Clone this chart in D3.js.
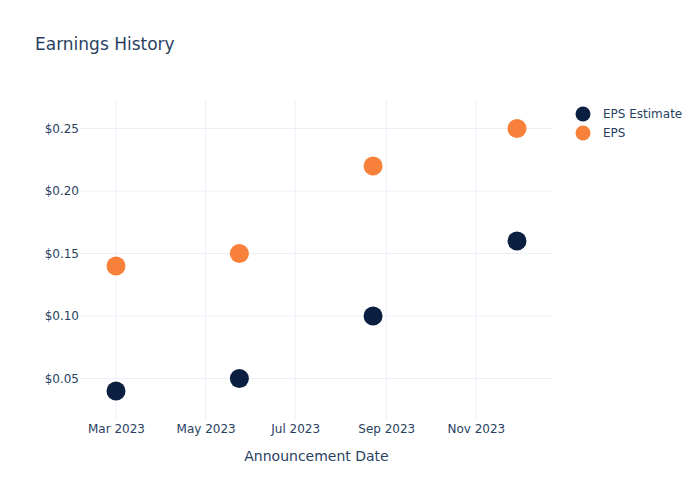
<!DOCTYPE html>
<html><head><meta charset="utf-8">
<script src="https://cdn.jsdelivr.net/npm/d3@7"></script>
<style>body{margin:0;background:#fff}text{font-family:"DejaVu Sans",Verdana,sans-serif}</style>
</head><body>
<svg id="c" width="700" height="500"></svg>
<script>
const dates = ["2023-03-01","2023-05-24","2023-08-23","2023-11-29"];
const epsEstimate = [0.04, 0.05, 0.10, 0.16];
const eps = [0.14, 0.15, 0.22, 0.25];
const yTicks = [0.05, 0.10, 0.15, 0.20, 0.25];
const xTicks = ["2023-03-01","2023-05-01","2023-07-01","2023-09-01","2023-11-01"];
const seriesNames = ["EPS Estimate","EPS"];
const seriesColors = ["#0b1f40","#f7813a"];

const parse = d3.timeParse("%Y-%m-%d");
const svg = d3.select("#c");
const L=80, R=553, T=100, B=420;
const fc = "#2a3f5f";

const dts = dates.map(parse);
const xPad = 36;
const x = d3.scaleTime().domain(d3.extent(dts)).range([L+xPad, R-xPad]);
const yMin = d3.min(epsEstimate.concat(eps)), yMax = d3.max(epsEstimate.concat(eps));
const y = d3.scaleLinear().domain([yMin, yMax]).range([B-29, T+28.5]);

// grid
const g = svg.append("g");
g.selectAll(".gx").data(xTicks.map(parse)).enter().append("line")
  .attr("x1",d=>x(d)).attr("x2",d=>x(d)).attr("y1",T).attr("y2",B)
  .attr("stroke","#ebf0f8").attr("stroke-width",1);
g.selectAll(".gy").data(yTicks).enter().append("line")
  .attr("x1",L).attr("x2",R).attr("y1",d=>y(d)).attr("y2",d=>y(d))
  .attr("stroke","#ebf0f8").attr("stroke-width",1);

// axes
const fmtX = d3.timeFormat("%b %Y");
const xAxis = d3.axisBottom(x).tickValues(xTicks.map(parse)).tickFormat(fmtX).tickSize(0).tickPadding(4);
const xa = svg.append("g").attr("transform",`translate(0,${B})`).call(xAxis);
xa.select(".domain").remove();
xa.selectAll("text").attr("fill",fc).attr("font-size",12).style("font-family",'"DejaVu Sans",sans-serif');

const yAxis = d3.axisLeft(y).tickValues(yTicks).tickFormat(d=>"$"+d.toFixed(2)).tickSize(0).tickPadding(1);
const ya = svg.append("g").attr("transform",`translate(${L},0)`).call(yAxis);
ya.select(".domain").remove();
ya.selectAll("text").attr("fill",fc).attr("font-size",12).style("font-family",'"DejaVu Sans",sans-serif');

// points
[epsEstimate, eps].forEach((vals,i)=>{
  svg.append("g").selectAll("circle").data(vals).enter().append("circle")
    .attr("cx",(d,j)=>x(dts[j])).attr("cy",d=>y(d)).attr("r",9.5)
    .attr("fill",seriesColors[i]);
});

// titles
svg.append("text").attr("x",35).attr("y",50).attr("fill",fc).attr("font-size",17).text("Earnings History");
svg.append("text").attr("x",(L+R)/2).attr("y",461).attr("text-anchor","middle").attr("fill",fc).attr("font-size",14).text("Announcement Date");

// legend
seriesNames.forEach((n,i)=>{
  const ly = 114 + i*19;
  svg.append("circle").attr("cx",583).attr("cy",ly).attr("r",7.5).attr("fill",seriesColors[i]);
  svg.append("text").attr("x",603).attr("y",ly+4).attr("fill",fc).attr("font-size",12).text(n);
});
</script>
</body></html>
